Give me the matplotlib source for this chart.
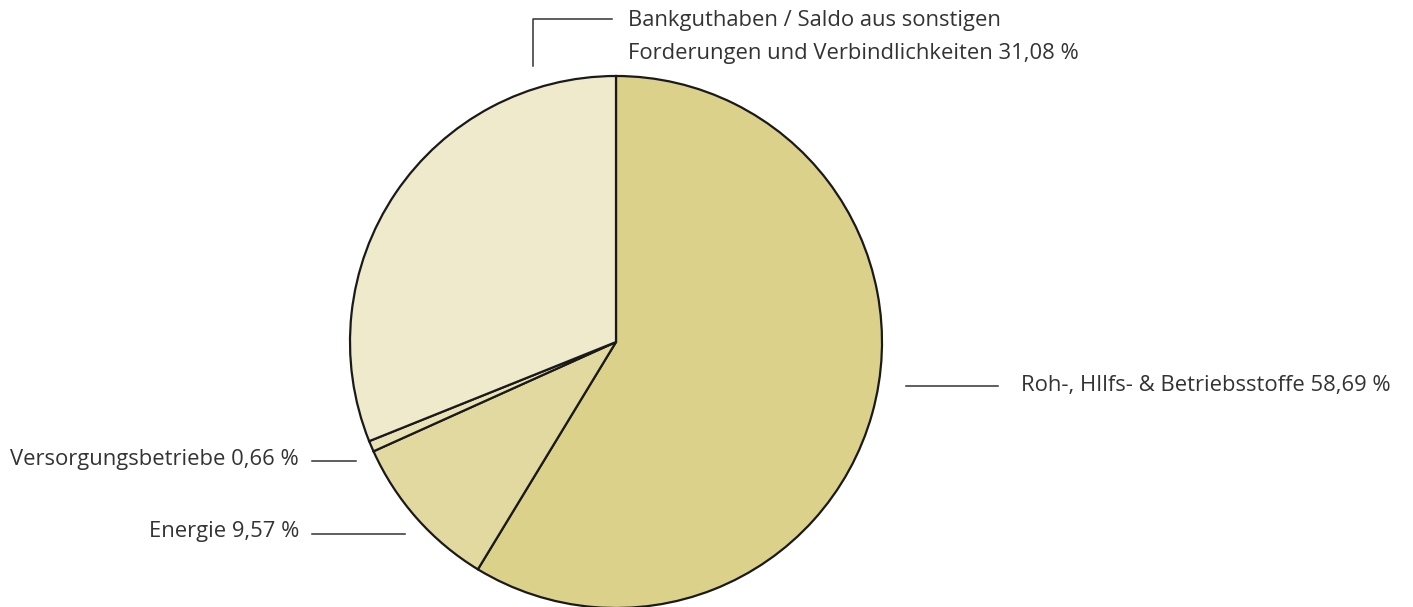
import matplotlib
matplotlib.use("Agg")
import matplotlib.pyplot as plt

labels = ["Roh-, HIlfs- & Betriebsstoffe 58,69 %", "Energie 9,57 %",
          "Versorgungsbetriebe 0,66 %",
          "Bankguthaben / Saldo aus sonstigen\nForderungen und Verbindlichkeiten 31,08 %"]
values = [58.69, 9.57, 0.66, 31.08]
colors = ["#DBD18B", "#E2D9A0", "#E9E2B6", "#EFEACB"]

W, H = 1413, 607
fig = plt.figure(figsize=(W / 100, H / 100), dpi=100)
ax = fig.add_axes([0, 0, 1, 1])
ax.set_xlim(0, W)
ax.set_ylim(0, H)
ax.set_aspect("equal")
ax.axis("off")

cx, cy, r = 616, H - 342, 266
ax.pie(values, colors=colors, startangle=90, counterclock=False,
       center=(cx, cy), radius=r, frame=True,
       wedgeprops=dict(edgecolor="#1a1a1a", linewidth=1.6))
ax.set_xlim(0, W)
ax.set_ylim(0, H)
ax.axis("off")

tc = "#333333"
lc = "#333333"
fs = 15.8
fam = ["Open Sans", "DejaVu Sans"]

def Y(y):
    return H - y

# Roh
ax.plot([906, 998], [Y(386), Y(386)], color=lc, lw=1.1)
ax.text(1021, Y(385), labels[0], ha="left", va="center", fontsize=fs, color=tc, family=fam)
# Energie
ax.plot([312, 405], [Y(534), Y(534)], color=lc, lw=1.1)
ax.text(299, Y(532), labels[1], ha="right", va="center", fontsize=fs, color=tc, family=fam)
# Versorgung
ax.plot([312, 356], [Y(461), Y(461)], color=lc, lw=1.1)
ax.text(299, Y(459), labels[2], ha="right", va="center", fontsize=fs, color=tc, family=fam)
# Bank
ax.plot([533, 533, 612], [Y(66), Y(19), Y(19)], color=lc, lw=1.1)
ax.text(628, Y(37), labels[3], ha="left", va="center", fontsize=fs, color=tc,
        family=fam, linespacing=1.75)

fig.savefig("out.png", dpi=100)
